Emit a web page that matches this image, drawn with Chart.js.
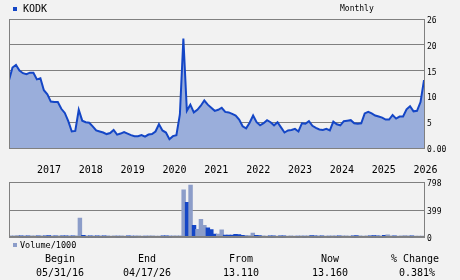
<!DOCTYPE html>
<html><head><meta charset="utf-8">
<script src="https://cdn.jsdelivr.net/npm/chart.js@4/dist/chart.umd.min.js"></script>
<style>
html,body{margin:0;padding:0;background:#f2f2f2;}
#wrap{position:relative;width:460px;height:280px;overflow:hidden;background:#f2f2f2;font-family:"DejaVu Sans Mono",monospace;color:#000;}
canvas{position:absolute;left:0;}
#c1{top:0;}
#c2{top:175px;}
.t{position:absolute;white-space:nowrap;line-height:12px;}
.c{text-align:center;width:100px;font-size:10px;}
</style></head><body>
<div id="wrap">
<canvas id="c1" width="460" height="178"></canvas>
<canvas id="c2" width="460" height="70"></canvas>
<div class="t" style="left:13px;top:7px;width:4px;height:4px;background:#1446c6;"></div>
<div class="t" style="left:23px;top:3px;font-size:10px;">KODK</div>
<div class="t" style="left:340px;top:3px;font-size:8px;">Monthly</div>
<div class="t" style="left:13px;top:243px;width:4px;height:4px;background:#8c9dc9;"></div>
<div class="t" style="left:20px;top:239px;font-size:8.5px;">Volume/1000</div>
<div id="stats"></div>
</div>
<script>
// ---- data ----
const ticker = 'KODK';
const yearLabels = ['2017','2018','2019','2020','2021','2022','2023','2024','2025','2026'];
const yearTickIdx = [8,20,32,44,56,68,80,92,104,116];
const priceTickVals = [0,5,10,15,20,25];
const priceTickLabels = ['0.00','5','10','15','20','26'];
const volTickVals = [0,399,798];
const volTickLabels = ['0','399','798'];
const prices = [
13.11,15.6,16.1,15.0,14.5,14.3,14.6,14.6,13.3,13.5,
11.2,10.4,9.0,8.9,8.9,7.6,6.8,5.2,3.2,3.3,
7.4,5.3,5.0,4.9,4.2,3.4,3.2,3.0,2.7,2.9,
3.5,2.6,2.8,3.1,2.8,2.5,2.3,2.3,2.5,2.2,
2.6,2.7,3.2,4.6,3.4,3.0,1.7,2.3,2.5,6.5,
21.2,7.2,8.4,6.9,7.4,8.2,9.2,8.4,7.8,7.2,
7.4,7.8,7.0,6.9,6.6,6.3,5.5,4.2,3.8,4.9,
6.3,5.0,4.4,4.8,5.4,5.0,4.4,5.0,4.0,3.0,
3.4,3.5,3.7,3.2,4.8,4.7,5.2,4.3,3.9,3.6,
3.5,3.7,3.4,5.1,4.6,4.4,5.2,5.3,5.4,4.8,
4.7,4.8,6.7,7.0,6.7,6.3,6.1,5.9,5.5,5.5,
6.4,5.7,6.1,6.1,7.5,8.1,7.1,7.2,8.9,13.16];
const volumes = [
18,16,20,18,15,18,16,19,17,18,16,20,15,17,16,18,16,15,17,19,
279,24,
14,16,15,17,14,16,15,14,16,15,17,14,16,15,14,16,15,14,16,18,15,14,16,17,15,18,16,18,
694,509,762,171,112,261,171,135,110,45,45,105,30,30,30,40,35,25,18,20,59,
24,20,17,15,19,17,15,17,19,15,17,15,14,17,15,19,23,17,15,17,
15,14,17,15,16,19,17,15,17,20,17,15,17,19,23,17,15,26,31,19,
17,15,19,21,19,17,15,13,13];
const statHeads = ['Begin','End','From','Now','% Change'];
const statVals = ['05/31/16','04/17/26','13.110','13.160','0.381%'];

// ---- styles ----
const FONT = '"DejaVu Sans Mono", monospace';
const LINE = '#1446c6', FILL = '#9aaedb', VUP = '#8c9dc9', VDN = '#1446c6', GRID = '#808080';
Chart.defaults.font.family = FONT;
Chart.defaults.color = '#000';

const frame = {
  id:'frame',
  afterDraw(chart){
    const a = chart.chartArea, ctx = chart.ctx;
    ctx.save();
    ctx.strokeStyle = GRID; ctx.lineWidth = 1;
    ctx.strokeRect(Math.floor(a.left)+0.5, Math.floor(a.top)+0.5, Math.round(a.right-a.left), Math.round(a.bottom-a.top));
    ctx.restore();
  }
};

new Chart(document.getElementById('c1'), {
  type:'line',
  data:{datasets:[{
    label:ticker,
    data: prices.map((v,i)=>({x:i,y:v})),
    borderColor:LINE, backgroundColor:FILL, borderWidth:2,
    fill:'origin', pointRadius:0, tension:0
  }]},
  options:{
    responsive:false, animation:false,
    layout:{padding:{left:9,top:19,right:0,bottom:0}},
    plugins:{legend:{display:false},tooltip:{enabled:false}},
    scales:{
      x:{type:'linear',min:0,max:prices.length-1,
         grid:{display:false,drawTicks:false}, border:{display:false},
         afterBuildTicks:s=>{s.ticks = yearTickIdx.map(v=>({value:v}));},
         afterFit:s=>{s.height=30;},
         ticks:{autoSkip:false,maxRotation:0,align:'start',padding:16,font:{size:10},
                callback:(v,i)=>yearLabels[i]}},
      y:{position:'right',min:0,max:25,
         afterBuildTicks:s=>{s.ticks = priceTickVals.map(v=>({value:v}));},
         afterFit:s=>{s.width=36;},
         grid:{color:GRID,drawTicks:false,lineWidth:1},
         border:{display:true,color:GRID},
         ticks:{padding:3,labelOffset:2,font:{size:8},callback:(v,i)=>priceTickLabels[i]}}
    }
  },
  plugins:[frame]
});

new Chart(document.getElementById('c2'), {
  type:'bar',
  data:{labels: volumes.map((v,i)=>i),
    datasets:[{label:'Volume/1000', data:volumes,
      backgroundColor: volumes.map((v,i)=> (i===0 || prices[i]>=prices[i-1]) ? VUP : VDN),
      borderWidth:0, barPercentage:1, categoryPercentage:1, inflateAmount:0.5}]},
  options:{
    responsive:false, animation:false,
    layout:{padding:{left:9,top:4,right:0,bottom:7}},
    plugins:{legend:{display:false},tooltip:{enabled:false}},
    scales:{
      x:{display:false},
      y:{position:'right',min:0,max:798,
         afterBuildTicks:s=>{s.ticks = volTickVals.map(v=>({value:v}));},
         afterFit:s=>{s.width=36;},
         grid:{color:GRID,drawTicks:false,lineWidth:1},
         border:{display:true,color:GRID},
         ticks:{padding:3,labelOffset:1.5,font:{size:8},callback:(v,i)=>volTickLabels[i]}}
    }
  },
  plugins:[frame]
});

// footer text
const centers = [60,147,241,330,415];
const st = document.getElementById('stats');
statHeads.forEach((h,i)=>{
  const a = document.createElement('div'); a.className='t c';
  a.style.left=(centers[i]-50)+'px'; a.style.top='253px'; a.textContent=h; st.appendChild(a);
  const b = document.createElement('div'); b.className='t c';
  b.style.left=(centers[i]-50+(i===4?2:0))+'px'; b.style.top='267px'; b.textContent=statVals[i]; st.appendChild(b);
});
</script>
</body></html>
